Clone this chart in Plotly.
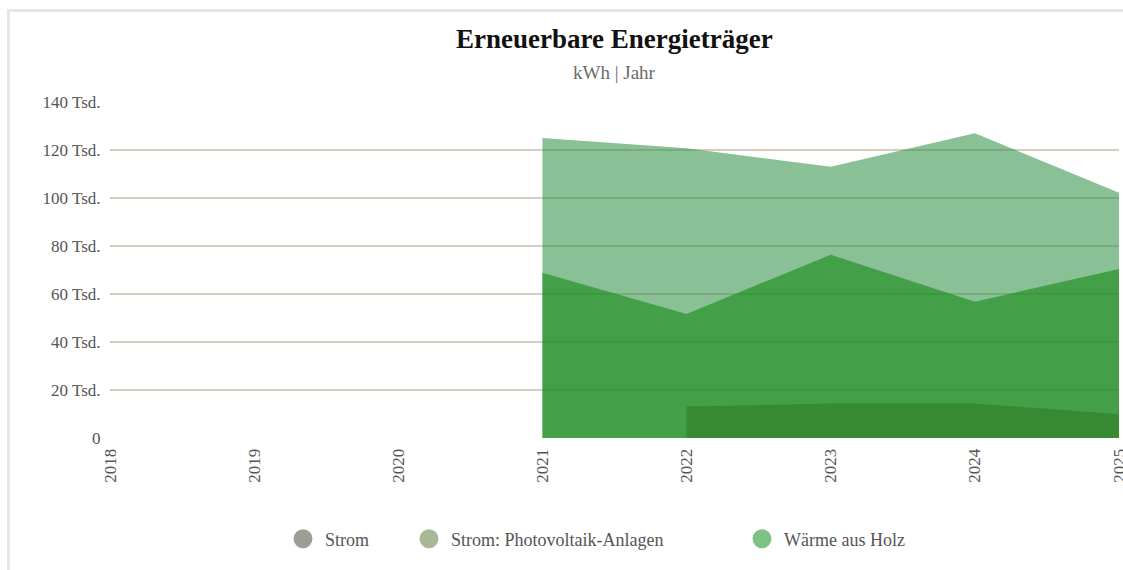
import plotly.graph_objects as go

# ---- data ----
years = [2018, 2019, 2020, 2021, 2022, 2023, 2024, 2025]
waerme_holz = [None, None, None, 125000, 120700, 113000, 127000, 102200]
strom = [None, None, None, 68900, 51700, 76400, 56800, 70400]
strom_pv = [None, None, None, None, 13100, 14400, 14400, 9900]

series_names = ["Strom", "Strom: Photovoltaik-Anlagen", "Wärme aus Holz"]
legend_colors = ["#9d9e93", "#a9b895", "#7ec383"]

y_tickvals = [0, 20000, 40000, 60000, 80000, 100000, 120000, 140000]
y_ticktext = ["0", "20 Tsd.", "40 Tsd.", "60 Tsd.", "80 Tsd.", "100 Tsd.", "120 Tsd.", "140 Tsd."]
x_tickvals = years
x_ticktext = [str(y) for y in years]

FONT = "Liberation Serif, Times New Roman, serif"

W, H = 1123, 570

# plot area in page pixels
PL, PR = 110, 1119
PT, PB = 102, 438

fig = go.Figure()

# Areas (overlapping, semi-transparent)
fig.add_trace(go.Scatter(x=years, y=waerme_holz, mode="lines", line=dict(width=0),
                         fill="tozeroy", fillcolor="rgba(58,150,78,0.6)",
                         showlegend=False, hoverinfo="skip"))
fig.add_trace(go.Scatter(x=years, y=strom, mode="lines", line=dict(width=0),
                         fill="tozeroy", fillcolor="rgba(20,139,24,0.6)",
                         showlegend=False, hoverinfo="skip"))
fig.add_trace(go.Scatter(x=years, y=strom_pv, mode="lines", line=dict(width=0),
                         fill="tozeroy", fillcolor="rgba(49,123,34,0.6)",
                         showlegend=False, hoverinfo="skip"))

# Legend entries (each in its own legend so they can be placed)
legend_ids = ["legend", "legend2", "legend3"]
legend_x_px = [303, 429, 762]  # marker centres (page px)
for name, col, lid in zip(series_names, legend_colors, legend_ids):
    fig.add_trace(go.Scatter(x=[None], y=[None], mode="markers", name=name,
                             marker=dict(symbol="circle", size=16, color=col,
                                         line=dict(width=3, color=col)),
                             legend=lid, showlegend=True))


def px_to_paper_x(px):
    return (px - PL) / (PR - PL)


def py_to_paper_y(py):
    return (PB - py) / (PB - PT)


legend_common = dict(orientation="h", xanchor="left", yanchor="middle",
                     font=dict(family=FONT, size=18, color="#555555"),
                     itemwidth=34, bgcolor="rgba(0,0,0,0)", borderwidth=0)

layout_legends = {}
for lid, mx in zip(legend_ids, legend_x_px):
    d = dict(legend_common)
    d["x"] = px_to_paper_x(mx - 22)
    d["y"] = py_to_paper_y(539)
    layout_legends[lid] = d

fig.update_layout(
    width=W, height=H, autosize=False,
    margin=dict(l=PL, r=W - PR, t=PT, b=H - PB, autoexpand=False),
    paper_bgcolor="white", plot_bgcolor="white",
    font=dict(family=FONT, color="#555555"),
    showlegend=True,
    **layout_legends,
    xaxis=dict(range=[2018, 2025], tickvals=x_tickvals, ticktext=x_ticktext,
               tickangle=-90, showgrid=False, zeroline=False, showline=False,
               ticks="outside", ticklen=3, tickcolor="rgba(0,0,0,0)",
               ticklabeloverflow="allow", automargin=False,
               tickfont=dict(family=FONT, size=17, color="#555555"),
               fixedrange=True),
    yaxis=dict(range=[0, 140000], tickvals=y_tickvals, ticktext=y_ticktext,
               showgrid=True, gridcolor="#d6cdbf", gridwidth=1.5,
               zeroline=False, showline=False, automargin=False,
               ticks="outside", ticklen=5, tickcolor="rgba(0,0,0,0)",
               tickfont=dict(family=FONT, size=17, color="#555555"),
               fixedrange=True),
    annotations=[
        dict(text="<b>Erneuerbare Energieträger</b>", xref="paper", yref="paper",
             x=0.5, y=py_to_paper_y(39), xanchor="center", yanchor="middle",
             showarrow=False, font=dict(family=FONT, size=27, color="#111111")),
        dict(text="kWh | Jahr", xref="paper", yref="paper",
             x=0.5, y=py_to_paper_y(72), xanchor="center", yanchor="middle",
             showarrow=False, font=dict(family=FONT, size=19, color="#6b6b6b")),
    ],
    shapes=[
        dict(type="line", xref="paper", yref="paper",
             x0=px_to_paper_x(8.5), x1=px_to_paper_x(1125),
             y0=py_to_paper_y(10.5), y1=py_to_paper_y(10.5),
             line=dict(color="#e6e6e3", width=3), layer="below"),
        dict(type="line", xref="paper", yref="paper",
             x0=px_to_paper_x(8.5), x1=px_to_paper_x(8.5),
             y0=py_to_paper_y(9), y1=py_to_paper_y(575),
             line=dict(color="#e6e6e3", width=3), layer="below"),
    ],
)

fig.write_html(
    "out.html",
    config={"displayModeBar": False},
    post_script="document.body.style.margin='0';document.body.style.overflow='hidden';",
)
